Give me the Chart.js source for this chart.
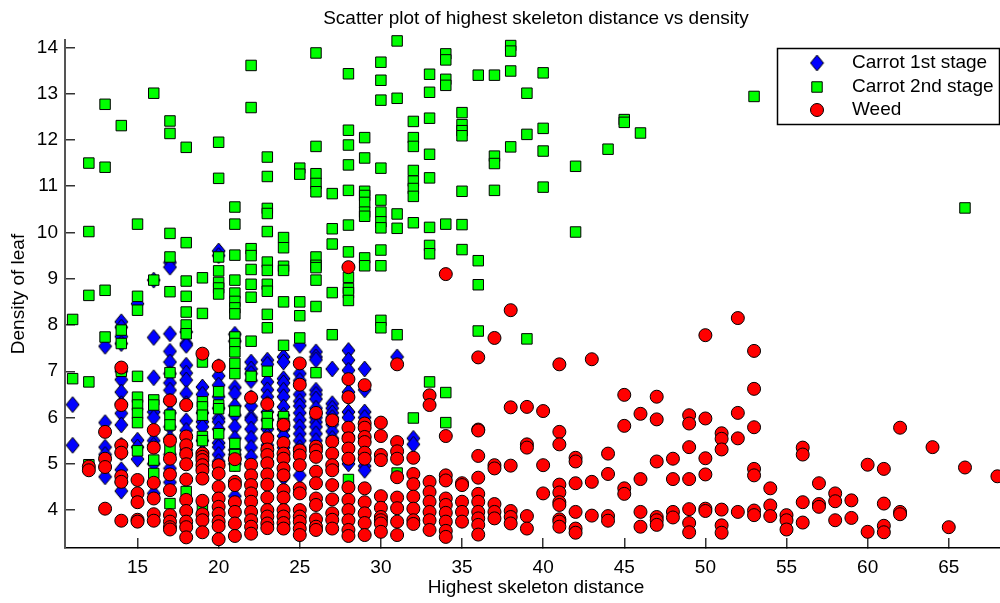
<!DOCTYPE html>
<html>
<head>
<meta charset="utf-8">
<title>Scatter plot</title>
<script src="https://cdn.jsdelivr.net/npm/chart.js@4"></script>
<style>
    html, body { margin: 0; padding: 0; background: #fff; overflow: hidden; }
    #wrap { width: 1000px; height: 603px; overflow: hidden; position: relative; }
    #scatterChart { position: absolute; left: 0; top: 0; }
</style>
</head>
<body>
<div id="wrap"><canvas id="scatterChart" width="1007" height="603"></canvas></div>
<script>
const seriesNames = ['Carrot 1st stage', 'Carrot 2nd stage', 'Weed'];
const xTickValues = [15, 20, 25, 30, 35, 40, 45, 50, 55, 60, 65];
const yTickValues = [4, 5, 6, 7, 8, 9, 10, 11, 12, 13, 14];

// values are stored per x column: [x, y, y, y...]
const carrot1Columns = [
    [11, 6.28, 5.40],
    [13, 7.54, 5.89, 5.36, 5.2, 4.72],
    [14, 8.07, 7.95, 7.75, 7.6, 7.0, 6.82, 6.55, 6.3, 6.09, 5.84, 5.4, 5.24, 4.87, 4.6, 4.41],
    [15, 8.46, 5.51, 5.36, 5.1],
    [16, 8.97, 7.73, 6.86, 6.12, 6.0, 5.5, 5.4, 5.0, 4.6, 4.36],
    [17, 9.35, 9.25, 7.81, 7.43, 7.2, 6.95, 6.75, 6.59, 6.35, 6.1, 5.8, 5.55, 5.2, 4.9, 4.6],
    [18, 7.85, 7.6, 7.56, 7.13, 6.96, 6.81, 6.52, 6.3, 5.93, 5.72, 5.3],
    [19, 6.66, 6.5, 6.1, 5.91, 5.8, 5.5, 5.25, 4.9],
    [20, 9.6, 9.5, 7.1, 6.9, 6.7, 6.45, 6.2, 5.98, 5.91, 5.75, 5.45, 5.36, 5.2, 5.05],
    [21, 7.8, 7.65, 6.65, 6.52, 6.25, 6.05, 5.8, 5.55, 5.3, 5.2, 5.0, 4.3],
    [22, 7.2, 7.05, 6.95, 6.8, 6.43, 6.25, 6.0, 5.95, 5.75, 5.55, 5.35, 5.15],
    [23, 7.24, 7.15, 6.77, 6.6, 6.45, 6.3, 6.12, 5.95, 5.75, 5.6, 5.4, 5.05, 4.6],
    [24, 7.31, 7.2, 6.84, 6.75, 6.59, 6.45, 6.23, 6.05, 5.9, 5.75, 5.6, 5.35, 5.1, 4.7],
    [25, 7.56, 6.95, 6.8, 6.5, 6.35, 6.25, 6.1, 5.95, 5.8, 5.65, 5.5, 5.35, 4.75],
    [26, 7.42, 7.31, 7.25, 6.59, 6.5, 6.4, 6.2, 6.0, 5.9, 5.8, 5.65, 5.5],
    [27, 7.05, 6.3, 6.2, 6.1, 6.0, 5.85, 5.7, 5.55],
    [28, 7.45, 7.24, 7.02, 6.55, 6.12, 6.0, 5.6, 5.1, 5.0],
    [29, 7.05, 6.6, 6.12, 6.0, 4.95, 4.86],
    [31, 7.31],
    [32, 5.55, 5.42]
];

const carrot2Columns = [
    [11, 8.12, 6.84],
    [12, 11.5, 10.02, 8.64, 6.77, 4.98],
    [13, 12.77, 11.41, 8.75, 7.74],
    [14, 12.31, 7.89, 7.6, 7.0],
    [15, 10.18, 8.62, 8.32, 6.89, 6.44, 6.27, 6.09, 5.89, 5.28],
    [16, 13.01, 8.97, 6.38, 6.27, 5.08, 4.79],
    [17, 12.41, 12.14, 9.98, 9.47, 8.72, 6.97, 6.05, 5.84, 5.31, 4.14],
    [18, 11.84, 9.78, 8.95, 8.62, 8.28, 8.0, 7.81, 4.4],
    [19, 9.02, 8.25, 7.2, 6.34, 6.23, 6.05, 5.59, 5.5, 4.05],
    [20, 11.95, 11.17, 9.47, 9.17, 8.92, 8.8, 8.67, 6.56, 6.27, 6.19, 5.65],
    [21, 10.55, 10.18, 9.51, 8.97, 8.69, 8.51, 8.37, 8.24, 7.74, 7.6, 7.42, 7.17, 6.95, 6.14, 5.44, 5.2, 4.95],
    [22, 13.61, 12.7, 9.65, 9.5, 9.2, 8.88, 8.6, 7.65, 6.89],
    [23, 11.63, 11.21, 10.52, 10.41, 10.02, 9.36, 9.18, 8.88, 8.73, 8.23, 7.94, 7.0, 6.02, 5.87],
    [24, 9.89, 9.67, 9.27, 9.18, 8.5, 7.56, 6.02, 5.87],
    [25, 11.39, 11.26, 8.5, 8.2, 7.72],
    [26, 13.88, 11.86, 11.27, 11.06, 10.88, 9.47, 9.29, 9.24, 8.97, 8.4, 6.97],
    [27, 10.84, 10.08, 9.75, 8.7, 7.79],
    [28, 13.43, 12.21, 11.89, 11.46, 10.91, 10.16, 9.58, 9.03, 8.79, 8.7, 8.53, 4.66],
    [29, 12.05, 11.61, 10.89, 10.8, 10.65, 10.44, 10.35, 9.45, 9.28],
    [30, 13.68, 13.29, 12.86, 11.39, 10.7, 10.44, 10.23, 10.1, 9.62, 9.28, 8.1, 7.94],
    [31, 14.14, 12.9, 10.4, 10.09, 7.79, 4.8],
    [32, 12.4, 12.05, 11.86, 11.34, 11.11, 10.95, 10.78, 10.21, 5.99],
    [33, 13.42, 13.03, 12.47, 11.69, 11.18, 10.11, 9.72, 9.54, 6.77],
    [34, 13.86, 13.73, 13.31, 13.18, 10.18, 6.54, 5.89],
    [35, 12.59, 12.33, 12.2, 12.09, 10.89, 10.17, 9.63],
    [36, 13.4, 9.39, 8.87, 7.87],
    [37, 13.4, 11.65, 11.49, 10.91],
    [38, 14.04, 13.92, 13.49, 11.85],
    [39, 13.01, 12.12, 7.7],
    [40, 13.45, 12.25, 11.76, 10.98],
    [42, 11.43, 10.01],
    [44, 11.8],
    [45, 12.44, 12.38],
    [46, 12.15],
    [53, 12.94],
    [66, 10.53]
];

const weedColumns = [
    [12, 4.94, 4.86],
    [13, 5.69, 5.11, 4.93, 4.03],
    [14, 7.08, 6.27, 5.4, 5.24, 4.73, 4.61, 3.77],
    [15, 4.65, 4.36, 4.17, 3.79, 3.75],
    [16, 5.73, 5.35, 4.59, 4.25, 3.91, 3.77],
    [17, 6.37, 5.5, 5.11, 4.77, 4.43, 3.89, 3.75, 3.63, 3.58],
    [18, 6.27, 5.59, 5.4, 5.21, 4.99, 4.66, 4.22, 3.98, 3.75, 3.63, 3.41],
    [19, 7.38, 5.22, 5.15, 5.08, 4.97, 4.86, 4.68, 4.2, 3.91, 3.78, 3.52],
    [20, 7.11, 4.97, 4.79, 4.5, 4.25, 4.07, 3.92, 3.75, 3.65, 3.37],
    [21, 5.1, 4.61, 4.54, 4.17, 3.96, 3.71, 3.44],
    [22, 6.43, 4.98, 4.75, 4.54, 4.36, 4.18, 3.96, 3.78, 3.64, 3.49],
    [23, 6.29, 5.55, 5.31, 5.19, 5.01, 4.77, 4.55, 4.27, 4.0, 3.86, 3.71, 3.61],
    [24, 5.84, 5.45, 5.22, 5.11, 4.9, 4.75, 4.43, 4.27, 4.0, 3.86, 3.72, 3.6],
    [25, 7.17, 6.71, 5.29, 5.18, 4.97, 4.47, 4.36, 4.0, 3.86, 3.75, 3.6, 3.46],
    [26, 6.1, 5.37, 5.29, 5.15, 4.83, 4.58, 4.25, 4.11, 3.8, 3.64, 3.57],
    [27, 5.94, 5.48, 5.22, 4.97, 4.86, 4.54, 4.23, 3.93, 3.79, 3.6],
    [28, 9.25, 6.83, 6.44, 5.78, 5.55, 5.33, 5.11, 4.49, 4.22, 4.0, 3.78, 3.57, 3.44],
    [29, 6.7, 5.87, 5.78, 5.58, 5.47, 5.24, 5.11, 4.47, 4.17, 3.93, 3.72, 3.46],
    [30, 5.89, 5.6, 5.19, 5.08, 4.3, 4.05, 3.85, 3.78, 3.71, 3.53],
    [31, 7.15, 5.47, 5.27, 5.11, 4.71, 4.27, 4.04, 3.75, 3.46],
    [32, 5.13, 4.78, 4.56, 4.29, 4.03, 3.78, 3.7],
    [33, 6.48, 6.27, 4.61, 4.39, 4.18, 3.96, 3.78, 3.57],
    [34, 9.1, 5.6, 4.75, 4.64, 4.25, 4.11, 3.94, 3.75, 3.55, 3.42],
    [35, 4.58, 4.54, 4.18, 3.96, 3.75],
    [36, 7.3, 5.74, 5.72, 5.17, 4.7, 4.35, 4.18, 3.96, 3.82, 3.68, 3.47],
    [37, 7.72, 4.97, 4.9, 4.13, 3.96, 3.82],
    [38, 8.32, 6.22, 4.96, 3.98, 3.85, 3.71],
    [39, 6.23, 5.42, 5.35, 3.87, 3.6],
    [40, 6.14, 4.97, 4.36],
    [41, 7.15, 5.69, 5.42, 4.55, 4.38, 4.17, 4.11, 3.8, 3.75, 3.64],
    [42, 5.13, 5.05, 4.58, 3.96, 3.6, 3.51],
    [43, 7.26, 4.61, 3.88],
    [44, 5.22, 4.78, 3.87, 3.77],
    [45, 6.49, 5.82, 4.47, 4.35],
    [46, 6.08, 4.67, 3.96, 3.64],
    [47, 6.45, 5.96, 5.05, 3.85, 3.78, 3.68],
    [48, 5.11, 4.67, 3.96, 3.84],
    [49, 6.05, 5.87, 5.36, 4.67, 4.02, 3.72, 3.52],
    [50, 7.78, 5.98, 5.12, 4.77, 4.03, 3.98],
    [51, 5.66, 5.54, 5.31, 4.01, 3.67, 3.51],
    [52, 8.15, 6.1, 5.55, 3.96],
    [53, 7.44, 6.62, 5.79, 4.89, 4.75, 3.99, 3.89],
    [54, 4.47, 4.1, 3.87],
    [55, 3.89, 3.78, 3.58],
    [56, 5.35, 5.2, 4.17, 3.73],
    [57, 4.58, 4.13, 4.07],
    [58, 4.36, 4.19, 3.78],
    [59, 4.21, 3.83],
    [60, 4.98, 3.53],
    [61, 4.89, 4.14, 3.66, 3.52],
    [62, 5.78, 3.96, 3.91],
    [64, 5.36],
    [65, 3.63],
    [66, 4.92],
    [68, 4.73]
];

function toPoints(columns) {
    const points = [];
    columns.forEach(col => {
        col.slice(1).forEach(y => points.push({ x: col[0], y: y }));
    });
    return points;
}

const fontName = '"Liberation Sans", Arial, sans-serif';

// the diamond in the picture is taller than wide, rectRot can't do that
function makeDiamond() {
    const c = document.createElement('canvas');
    c.width = 15;
    c.height = 18;
    const g = c.getContext('2d');
    g.beginPath();
    g.moveTo(7.5, 1);
    g.lineTo(14, 9);
    g.lineTo(7.5, 17);
    g.lineTo(1, 9);
    g.closePath();
    g.fillStyle = '#0000ff';
    g.strokeStyle = '#000';
    g.lineWidth = 1;
    g.fill();
    g.stroke();
    return c;
}

const markers = [
    { pointStyle: makeDiamond(), radius: 7, backgroundColor: '#0000ff' },
    { pointStyle: 'rect', radius: 7.4, backgroundColor: '#00ff00' },
    { pointStyle: 'circle', radius: 6.5, backgroundColor: '#ff0000' }
];

// legend sits inside the plot in the top right corner, so it is drawn by hand
const boxLegend = {
    id: 'boxLegend',
    afterDraw(chart) {
        const ctx = chart.ctx;
        ctx.save();
        ctx.fillStyle = '#fff';
        ctx.strokeStyle = '#000';
        ctx.lineWidth = 1.5;
        ctx.fillRect(777.5, 48.5, 222, 76);
        ctx.strokeRect(777.5, 48.5, 222, 76);
        const rows = [63, 87, 110];
        seriesNames.forEach((name, i) => {
            ctx.fillStyle = markers[i].backgroundColor;
            ctx.strokeStyle = '#000';
            ctx.lineWidth = 1;
            Chart.helpers.drawPoint(ctx, {
                pointStyle: markers[i].pointStyle,
                radius: markers[i].radius,
                rotation: 0,
                borderWidth: 1
            }, 817, rows[i]);
            ctx.fillStyle = '#000';
            ctx.font = '19px ' + fontName;
            ctx.textAlign = 'left';
            ctx.textBaseline = 'middle';
            ctx.fillText(name, 852, rows[i]);
        });
        ctx.restore();
    }
};

const ctx = document.getElementById('scatterChart').getContext('2d');
const myChart = new Chart(ctx, {
    type: 'scatter',
    data: {
        datasets: [toPoints(carrot1Columns), toPoints(carrot2Columns), toPoints(weedColumns)].map((points, i) => ({
            label: seriesNames[i],
            data: points,
            pointStyle: markers[i].pointStyle,
            pointRadius: markers[i].radius,
            backgroundColor: markers[i].backgroundColor,
            borderColor: '#000',
            borderWidth: 1,
            clip: false,
            order: 3 - i // weed on top, then carrot 2nd stage
        }))
    },
    options: {
        responsive: false,
        animation: false,
        maintainAspectRatio: false,
        // autoPadding would keep room for the markers at the right edge
        layout: { padding: 0, autoPadding: false },
        scales: {
            x: {
                type: 'linear',
                min: 10.53,
                max: 68.59,
                afterBuildTicks: axis => { axis.ticks = xTickValues.map(v => ({ value: v })); },
                afterFit: axis => {
                    axis.height = 55;
                    axis.paddingLeft = 0;
                    axis.paddingRight = 0;
                },
                grid: { drawOnChartArea: false, tickLength: -10, tickColor: '#333', lineWidth: 1.5 },
                border: { color: '#000', width: 1.5 },
                ticks: { color: '#000', font: { family: fontName, size: 19 }, padding: 18, maxRotation: 0, autoSkip: false },
                title: {
                    display: true,
                    text: 'Highest skeleton distance',
                    color: '#000',
                    font: { family: fontName, size: 19 },
                    padding: { top: 0, bottom: 3.6 }
                }
            },
            y: {
                type: 'linear',
                min: 3.18,
                max: 14.16,
                afterBuildTicks: axis => { axis.ticks = yTickValues.map(v => ({ value: v })); },
                afterFit: axis => { axis.width = 65; },
                grid: { drawOnChartArea: false, tickLength: -10, tickColor: '#333', lineWidth: 1.5 },
                border: { color: '#555', width: 2 },
                ticks: { color: '#000', font: { family: fontName, size: 19 }, padding: 17, autoSkip: false },
                title: {
                    display: true,
                    text: 'Density of leaf',
                    color: '#000',
                    font: { family: fontName, size: 19 },
                    padding: { top: 7.6, bottom: 0 }
                }
            }
        },
        plugins: {
            legend: { display: false },
            tooltip: { enabled: false },
            title: {
                display: true,
                fullSize: false,
                text: 'Scatter plot of highest skeleton distance vs density',
                color: '#000',
                font: { family: fontName, size: 19, weight: 'normal' },
                padding: { top: 7.6, bottom: 9.6 }
            }
        }
    },
    plugins: [boxLegend]
});
</script>
</body>
</html>
